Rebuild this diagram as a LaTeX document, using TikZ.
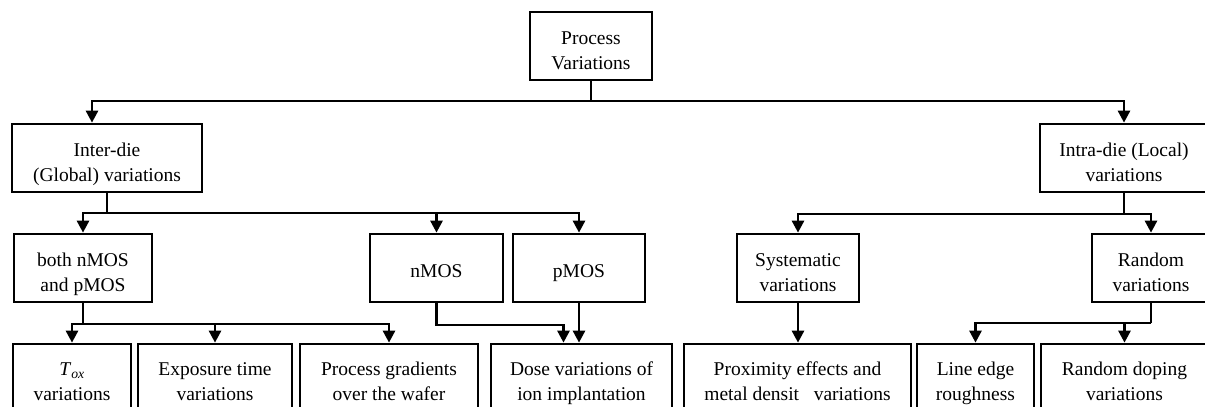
\documentclass[tikz,border=0pt]{standalone}
\usepackage{fontspec}
\setmainfont{Liberation Serif}
\usepackage{tikz}
\usetikzlibrary{positioning, arrows.meta, calc}
\tikzset{
  box/.style={draw=black, fill=white, align=center, font=\fontsize{19.5}{25}\selectfont,
              minimum height=68pt, inner sep=2pt, line width=2.7pt,
              text height=49pt, text depth=2pt},
  onebox/.style={box, text height=19pt, text depth=0pt},
  lowbox/.style={box, minimum height=66pt},
  ln/.style={line width=2.7pt, draw=black},
  arr/.style={-{Triangle[length=12pt, width=12pt]}, line width=2.7pt, draw=black},
}

\begin{document}
\begin{tikzpicture}[x=1pt, y=-1pt]
        \useasboundingbox (0,0) rectangle (1205,407);
        \fill[white] (0,0) rectangle (1205,407);
        \node[box, minimum width=122pt] (pv) at (591,46) {Process\\Variations};
        \node[box, minimum width=190pt] (inter) at (107,158) {Inter-die\\(Global) variations};
        \node[box, minimum width=168pt] (intra) at (1124,158) {Intra-die (Local)\\variations};
        \node[box, minimum width=138pt] (both) at (83,268) {both nMOS\\and pMOS};
        \node[onebox, minimum width=133pt] (nmos) at (436.5,268) {nMOS};
        \node[onebox, minimum width=132pt] (pmos) at (579,268) {pMOS};
        \node[box, minimum width=122pt] (syst) at (798,268) {Systematic\\variations};
        \node[box, minimum width=118pt] (rand) at (1151,268) {Random\\variations};
        \node[lowbox, minimum width=118pt] (tox) at (72,377) {\textit{T}\textsubscript{\textit{ox}}\\variations};
        \node[lowbox, minimum width=154pt] (expo) at (215,377) {Exposure time\\variations};
        \node[lowbox, minimum width=178pt] (grad) at (389,377) {Process gradients\\over the wafer};
        \node[lowbox, minimum width=181pt] (dose) at (581.5,377) {Dose variations of\\ion implantation};
        \node[lowbox, minimum width=227pt] (prox) at (797.5,377) {Proximity effects and\\metal densit\phantom{y} variations};
        \node[lowbox, minimum width=117pt] (ler) at (975.5,377) {Line edge\\roughness};
        \node[lowbox, minimum width=167pt] (dop) at (1124.5,377) {Random doping\\variations};
        \coordinate (b0) at (pv.south |- 0,101);
        \coordinate (b1) at (inter.south |- 0,213);
        \coordinate (b2) at (intra.south |- 0,214);
        \coordinate (b3) at (both.south |- 0,324);
        \coordinate (b4) at (rand.south |- 0,323);
        \draw[ln] (pv.south) -- (b0);
        \draw[arr] (b0) -| ([xshift=-15pt]inter.north);
        \draw[arr] (b0) -| (intra.north);
        \draw[ln] (inter.south) -- (b1);
        \draw[arr] (b1) -| (both.north);
        \draw[arr] (b1) -| (nmos.north);
        \draw[arr] (b1) -| (pmos.north);
        \draw[ln] (intra.south) -- (b2);
        \draw[arr] (b2) -| (syst.north);
        \draw[arr] (b2) -| (rand.north);
        \draw[ln] (both.south) -- (b3);
        \draw[arr] (b3) -| (tox.north);
        \draw[arr] (b3) -| (expo.north);
        \draw[arr] (b3) -| (grad.north);
        \draw[arr] (nmos.south) -- ++(0,21.5) -| ([xshift=-18pt]dose.north);
        \draw[arr] (pmos.south) -- (pmos.south |- dose.north);
        \draw[arr] (syst.south) -- (syst.south |- prox.north);
        \draw[ln] (rand.south) -- (b4);
        \draw[arr] (b4) -| (ler.north);
        \draw[arr] (b4) -| (dop.north);
      \end{tikzpicture}
\end{document}
